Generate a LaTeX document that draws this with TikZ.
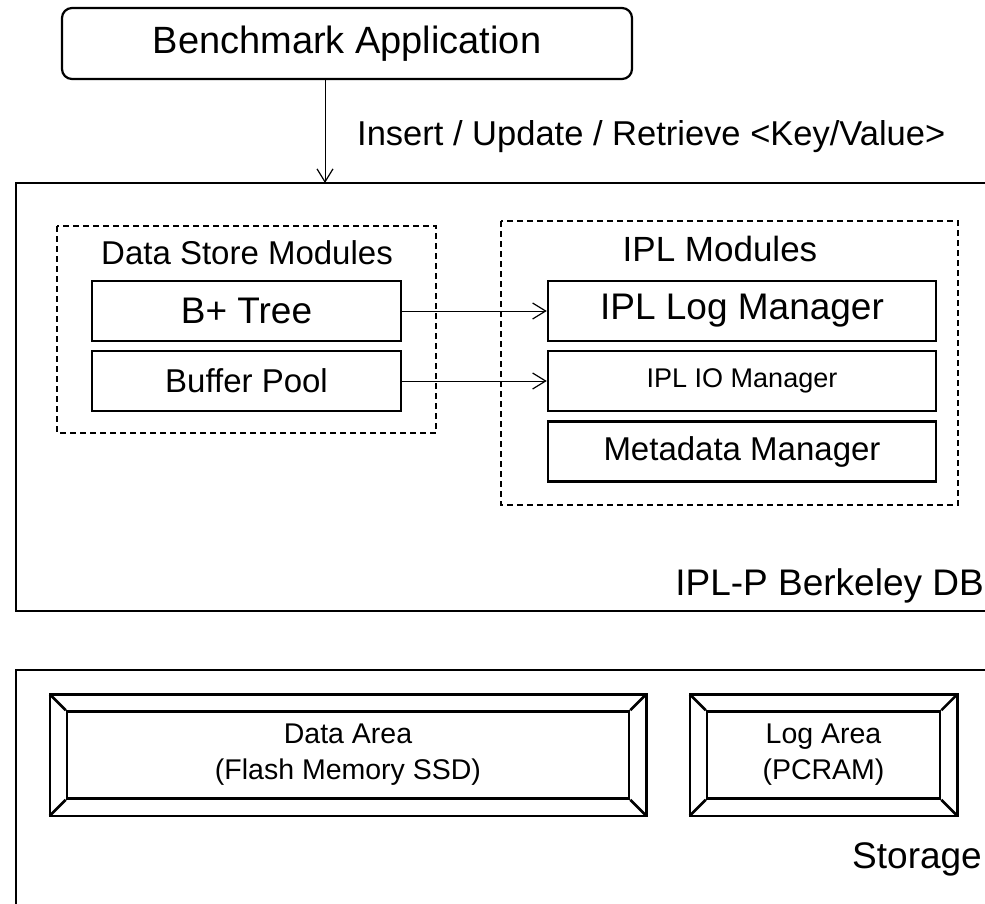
\documentclass[tikz,border=0pt]{standalone}
\usepackage{fontspec}
\setmainfont{Liberation Sans}
\usetikzlibrary{arrows.meta,calc}

\newcommand{\fs}[1]{\fontsize{#1}{#1}\selectfont}

\tikzset{
  lbl/.style={inner sep=0pt, font=\fs{33}},
  appbox/.style={draw, line width=2.2pt, rounded corners=10pt, minimum width=570pt, minimum height=71pt, lbl},
  modbox/.style={draw, line width=2.5pt, minimum height=60pt, lbl},
  areabox/.style={draw, line width=2.5pt, minimum height=87pt, align=center, inner sep=0pt, font=\fontsize{28.5}{36}\selectfont},
  frame/.style={line width=2.5pt},
  group/.style={line width=1.3pt, dash pattern=on 6pt off 4pt},
  arr/.style={line width=1pt, -{Straight Barb[length=13pt,width=16pt,line width=1.2pt]}}
}

\begin{document}
\begin{tikzpicture}[x=1pt,y=-1pt]
  \useasboundingbox (0,0) rectangle (985,904);
  % application and request arrow
  \node[appbox, font=\fs{38}] (app) at (347,43.5) {Benchmark Application};
  \coordinate (dbtop) at (325,183);
  \draw[arr] (app.south -| dbtop) -- (dbtop);
  \node[lbl, anchor=west, font=\fs{34.5}] (oplabel) at (357,137) {Insert / Update / Retrieve <Key/Value>};
  % database frame (open to the right)
  \draw[frame] (985,183) -| (16,611) -- (985,611);
  \node[lbl, anchor=base east, font=\fs{37}] (dblabel) at (984,595) {IPL-P Berkeley DB};
  % module groups
  \draw[group] (57,226) rectangle (436,433);
  \draw[group] (501,221) rectangle (958,505);
  \node[lbl] (dslabel) at (247,253) {Data Store Modules};
  \node[lbl, font=\fs{35}] (ipllabel) at (720,249) {IPL Modules};
  % modules
  \node[modbox, minimum width=309pt, font=\fs{37}] (bptree) at (246.5,311) {B+ Tree};
  \node[modbox, minimum width=309pt] (bufpool) at (246.5,381) {Buffer Pool};
  \node[modbox, minimum width=388pt, font=\fs{37}] (logmgr) at (742,311) {IPL Log Manager};
  \node[modbox, minimum width=388pt, font=\fs{27}] (iomgr) at (742,381) {IPL IO Manager};
  \node[modbox, minimum width=388pt] (metamgr) at (742,451.5) {Metadata Manager};
  \draw[arr] (bptree.east) -- (logmgr.west);
  \draw[arr] (bufpool.east) -- (iomgr.west);
  % storage frame (open to the right and bottom)
  \draw[frame] (985,670) -| (16,910);
  \node[lbl, anchor=base east, font=\fs{37}] (storlabel) at (982,868) {Storage};
  % storage areas with bevelled borders
  \node[areabox, minimum width=562pt] (data) at (348,755) {Data Area\\(Flash Memory SSD)};
  \node[areabox, minimum width=233pt] (log) at (823.5,755) {Log Area\\(PCRAM)};
  \foreach \n in {data,log} {
    \draw[frame] ($(\n.north west)+(-16,-16)$) rectangle ($(\n.south east)+(16,16)$);
    \draw[frame] (\n.north west) -- ++(-16,-16);
    \draw[frame] (\n.north east) -- ++(16,-16);
    \draw[frame] (\n.south west) -- ++(-16,16);
    \draw[frame] (\n.south east) -- ++(16,16);
  }
\end{tikzpicture}
\end{document}
